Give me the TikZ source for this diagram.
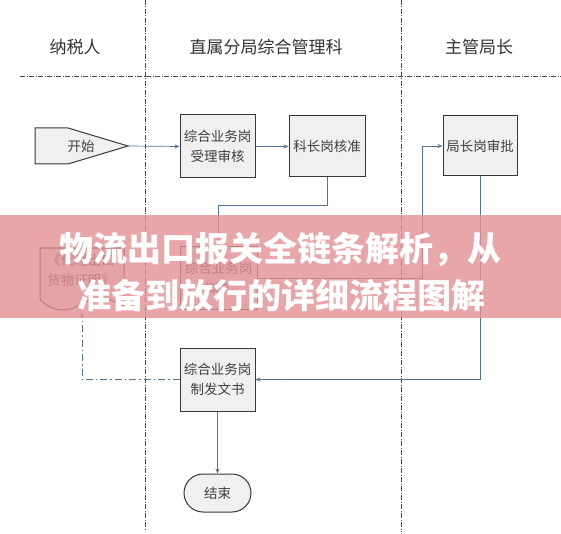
\documentclass[tikz,border=0pt]{standalone}
\usepackage{fontspec}
\newfontfamily\cjk{Noto Sans CJK SC}
\usetikzlibrary{arrows.meta,shapes.misc}
\definecolor{lane}{RGB}{70,70,70}
\definecolor{flow}{RGB}{85,115,150}
\definecolor{boxfill}{RGB}{240,240,240}
\definecolor{boxline}{RGB}{55,55,55}
\definecolor{banner}{RGB}{228,144,147}
\begin{document}
\begin{tikzpicture}[x=1pt,y=-1pt,
  lanesep/.style={draw=lane, line width=0.8pt, dash pattern=on 5pt off 1.5pt on 1pt off 1.5pt},
  boxtext/.style={font=\cjk\fontsize{13.5}{20}\selectfont, text=black!75},
  procbox/.style={boxtext, draw=boxline, line width=1pt, fill=boxfill, minimum width=75pt, minimum height=62pt, inner sep=1pt, align=center},
  shapeline/.style={draw=boxline, line width=1pt, fill=boxfill},
  flowline/.style={draw=flow, line width=0.7pt, -{Stealth[length=5pt,width=4pt]}},
  backline/.style={draw=flow!80!gray, line width=0.7pt, dash pattern=on 7pt off 3pt on 1.5pt off 3pt, -{Stealth[length=5pt,width=4pt]}},
  header/.style={font=\cjk\fontsize{17}{20}\selectfont, text=black!80},
  bannertext/.style={font=\cjk\bfseries\fontsize{34}{36}\selectfont, text=white},
]
\useasboundingbox (0,0) rectangle (561,534);
\fill[white] (0,0) rectangle (561,534);
% swimlane separators
\draw[lanesep] (145,0) -- (145,530);
\draw[lanesep] (401,0) -- (401,532);
\draw[lanesep] (20,76) -- (561,76);
% headers
\node[header] (h1) at (75,47) {纳税人};
\node[header] (h2) at (266,47) {直属分局综合管理科};
\node[header] (h3) at (479,47) {主管局长};
% start
\draw[shapeline] (35,128) -- (68,128) -- (128,146) -- (68,164) -- (35,164) -- cycle;
\node[boxtext, inner sep=0pt] (start) at (81,146) {开始};
\coordinate (starttip) at (128,146);
% boxes
\node[procbox, minimum width=75pt, minimum height=63pt] (b1) at (217.5,146.5) {综合业务岗\\受理审核};
\node[procbox, minimum width=76pt, minimum height=61pt] (b2) at (327,146.5) {科长岗核准};
\node[procbox, minimum width=74pt, minimum height=60pt] (b3) at (480,146) {局长岗审批};
\node[procbox, minimum width=77pt, minimum height=62pt] (b4) at (218.5,278) {综合业务岗\\拟文};
\node[procbox, minimum width=75pt, minimum height=63pt] (b5) at (217.5,379.5) {综合业务岗\\制发文书};
\node[boxtext, rounded rectangle, draw=boxline, line width=1pt, fill=boxfill, minimum width=69pt, minimum height=38pt, inner sep=1pt] (end) at (217.5,493) {结束};
% document
\draw[shapeline] (40,248) -- (124,248) -- (124,306)
   .. controls (104,296) and (96,296) .. (82,304)
   .. controls (66,313) and (54,312) .. (40,300) -- cycle;
\node[boxtext, align=center, inner sep=0pt] (doc) at (81,270) {《代理出口\\货物证明》};
\coordinate (docb) at (82,312);
% connectors
\draw[flowline] (starttip) -- (b1.west);
\draw[flowline] (b1.east) -- (b2.west);
\draw[flowline] (b2.south) -- ++(0,28) -| (b4.north);
\draw[flowline] (b4.east) -| ([xshift=-20pt]b3.west) -- (b3.west);
\draw[flowline] (b3.south) |- (b5.east);
\draw[flowline] (b5.south) -- (end.north);
\draw[backline] (b5.west) -| (docb);
% banner
\fill[banner, opacity=0.8] (0,215) rectangle (561,318);
\node[bannertext] (t1) at (280,249) {物流出口报关全链条解析，从};
\node[bannertext] (t2) at (281,296) {准备到放行的详细流程图解};
\end{tikzpicture}
\end{document}
